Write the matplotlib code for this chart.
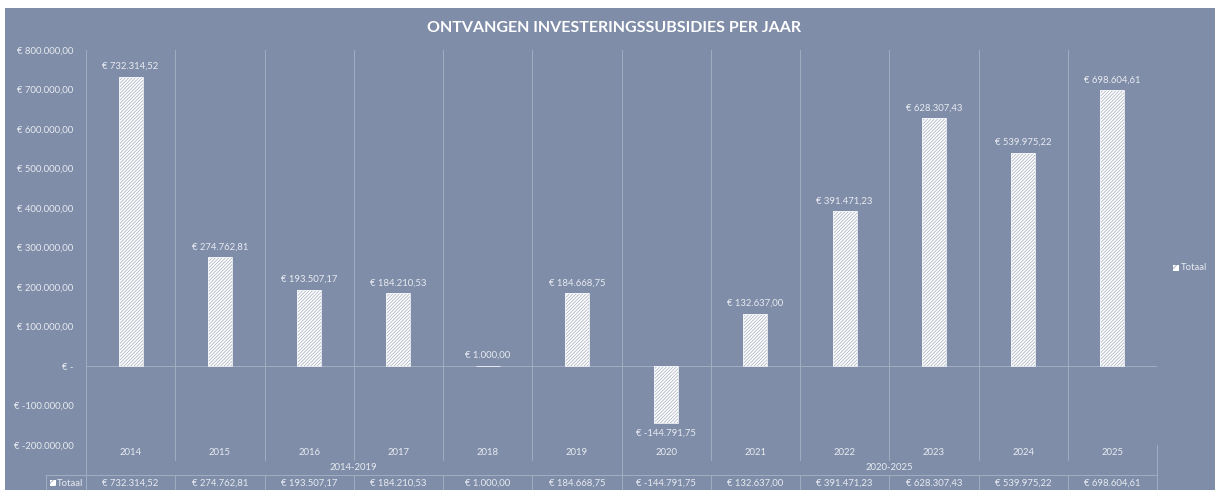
import matplotlib
matplotlib.use("Agg")
import matplotlib.pyplot as plt
from matplotlib.patches import Rectangle

years = ["2014", "2015", "2016", "2017", "2018", "2019",
         "2020", "2021", "2022", "2023", "2024", "2025"]
totaal = [732314.52, 274762.81, 193507.17, 184210.53, 1000.00, 184668.75,
          -144791.75, 132637.00, 391471.23, 628307.43, 539975.22, 698604.61]
groups = ["2014-2019", "2020-2025"]
group_sizes = [6, 6]
y_ticks = [-200000, -100000, 0, 100000, 200000, 300000,
           400000, 500000, 600000, 700000, 800000]

BG = "#7f8da8"
LINE = "#a2adc1"
TXT = "#e8ebf1"
FONT = "Lato"

plt.rcParams["font.family"] = [FONT, "DejaVu Sans"]
plt.rcParams["hatch.linewidth"] = 0.5


def euro(v):
    if v == 0:
        return "€ -"
    s = f"{abs(v):,.2f}".replace(",", "X").replace(".", ",").replace("X", ".")
    return "€ -" + s if v < 0 else "€ " + s


W, H = 1215, 490
fig = plt.figure(figsize=(W / 100, H / 100), dpi=100, facecolor="white")
fig.patches.append(Rectangle((5 / W, 0), 1, (H - 8) / H, transform=fig.transFigure,
                             facecolor=BG, edgecolor="none", zorder=-10))

x0, x1, ytop, ybot = 86, 1157, 50, 445
ax = fig.add_axes([x0 / W, (H - ybot) / H, (x1 - x0) / W, (ybot - ytop) / H])
ax.set_facecolor("none")

n = len(years)
xs = list(range(n))
ax.bar(xs, totaal, width=0.27, color="white", edgecolor="#a4acbd",
       hatch="//////////", linewidth=0, zorder=3)
ax.bar(xs, totaal, width=0.27, color="none", edgecolor="#f2f4f8", linewidth=0.6, zorder=4)

for x, v in zip(xs, totaal):
    if v >= 0:
        ax.annotate(euro(v), (x, v), xytext=(0, 4), textcoords="offset points",
                    ha="center", va="bottom", fontsize=6.8, color=TXT)
    else:
        ax.annotate(euro(v), (x, v), xytext=(0, -4), textcoords="offset points",
                    ha="center", va="top", fontsize=6.8, color=TXT)

ax.set_xlim(-0.5, n - 0.5)
ax.set_ylim(-200000, 800000)
ax.set_yticks(y_ticks)
ax.set_yticklabels([euro(v) for v in y_ticks])
ax.tick_params(axis="y", length=0, pad=9, labelsize=6.8, labelcolor=TXT)
ax.set_xticks([])
for s in ax.spines.values():
    s.set_visible(False)

# category separators and baselines
for i in range(n + 1):
    ax.axvline(i - 0.5, color=LINE, lw=0.7, zorder=1)
ax.axhline(0, color=LINE, lw=0.7, zorder=1)
ax.axhline(-200000, color=LINE, lw=0.7, zorder=1)

# table under the plot, y in axes fraction
def ay(py):
    return (ybot - py) / (ybot - ytop)

tr = ax.get_xaxis_transform()
row1, row2, row3, row4 = ay(445), ay(460), ay(475), ay(491)
for i in range(n + 1):
    ax.plot([i - 0.5, i - 0.5], [row1, row2], transform=tr, color=LINE, lw=0.7, clip_on=False)
    ax.plot([i - 0.5, i - 0.5], [row3, row4], transform=tr, color=LINE, lw=0.7, clip_on=False)
for i, y in enumerate(years):
    ax.text(i, ay(452.5), y, transform=tr, ha="center", va="center", fontsize=6.8, color=TXT)

start = 0
edges = [start]
for gs in group_sizes:
    start += gs
    edges.append(start)
for e in edges:
    ax.plot([e - 0.5, e - 0.5], [row2, row3], transform=tr, color=LINE, lw=0.7, clip_on=False)
for g, a, b in zip(groups, edges[:-1], edges[1:]):
    ax.text((a + b - 1) / 2, ay(467), g, transform=tr, ha="center", va="center",
            fontsize=6.8, color=TXT)

hx = -0.5 - 40 / ((x1 - x0) / n)
ax.plot([hx, n - 0.5], [row3, row3], transform=tr, color=LINE, lw=0.7, clip_on=False)
ax.plot([hx, hx], [row3, row4], transform=tr, color=LINE, lw=0.7, clip_on=False)
for i, v in enumerate(totaal):
    ax.text(i, ay(483), euro(v), transform=tr, ha="center", va="center",
            fontsize=6.8, color=TXT)
ax.text(-0.5 - 3 / ((x1 - x0) / n), ay(483), "Totaal", transform=tr, ha="right",
        va="center", fontsize=6.8, color=TXT)
fig.patches.append(Rectangle((50 / W, (H - 486) / H), 6 / W, 6 / H, transform=fig.transFigure,
                             facecolor="white", edgecolor="#8e98ad", hatch="////", lw=0))

# legend at right
fig.patches.append(Rectangle((1173 / W, (H - 271) / H), 6 / W, 6 / H, transform=fig.transFigure,
                             facecolor="white", edgecolor="#8e98ad", hatch="////", lw=0))
fig.text(1181 / W, (H - 268) / H, "Totaal", ha="left", va="center", fontsize=6.8, color=TXT)

fig.text(614 / W, (H - 28) / H, "ONTVANGEN INVESTERINGSSUBSIDIES PER JAAR",
         ha="center", va="center", fontsize=11.5, fontweight="bold", color="white")

fig.savefig("out.png", dpi=100, facecolor=fig.get_facecolor())
